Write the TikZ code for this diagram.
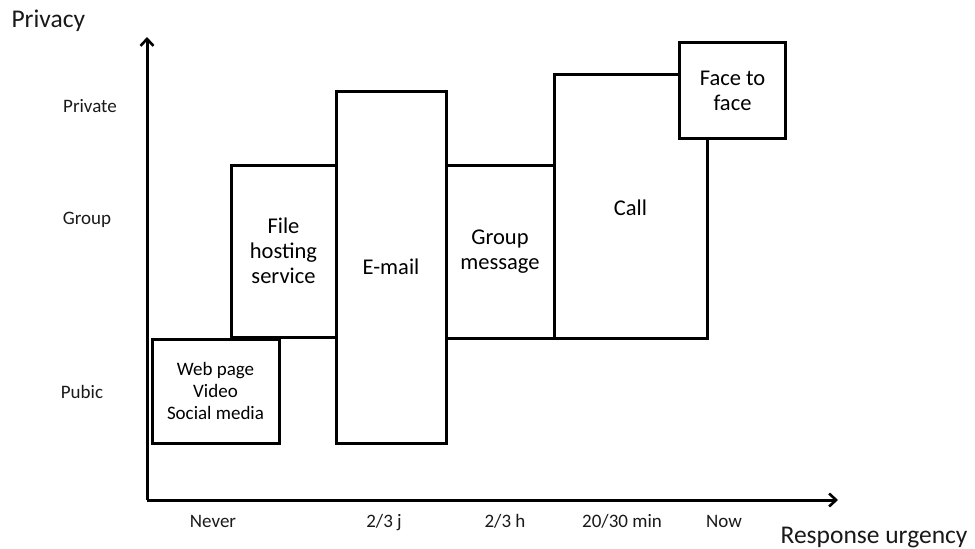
\documentclass[tikz,border=0pt]{standalone}
\usepackage{fontspec}
\setmainfont{Carlito}
\usetikzlibrary{arrows.meta}
\begin{document}
\begin{tikzpicture}[x=1pt,y=-1pt,
  boxfont/.style={font=\fontsize{22.5}{25}\selectfont},
  box/.style={boxfont, draw=black, line width=3pt, inner sep=0pt, align=center},
  smallbox/.style={box, font=\fontsize{19}{22}\selectfont},
  lab/.style={font=\fontsize{19}{20}\selectfont, text=black!90},
  xlab/.style={lab, anchor=base},
  axtitle/.style={font=\fontsize{25.5}{28}\selectfont, text=black!90},
  axis/.style={line width=3pt, -{Straight Barb[length=7pt,width=13pt,line width=2.6pt]}}
]
\useasboundingbox (0,0) rectangle (975,549);
% axes
\coordinate (O) at (147,500);
\coordinate (Ytop) at (147,37);
\coordinate (Xend) at (838,500);
\draw[axis] (O) -- (Ytop);
\draw[axis] (O) -- (Xend);
% boxes
\node[box, minimum width=105pt, minimum height=172pt] (file) at (283.5,251) {File\\hosting\\service};
\node[box, minimum width=108pt, minimum height=173pt] (group) at (500,251.5) {Group\\message};
\node[box, minimum width=153pt, minimum height=264pt] (call) at (630.5,206) {};
\node[boxfont, anchor=base, inner sep=0pt] (calltext) at (630.5,215) {Call};
\node[box, fill=white, minimum width=106pt, minimum height=96pt] (face) at (732.5,90.5) {Face to\\face};
\node[box, minimum width=110pt, minimum height=352pt] (email) at (391,267) {E-mail};
\node[smallbox, minimum width=127pt, minimum height=104pt] (web) at (215.5,391) {Web page\\Video\\Social media};
% axis titles
\node[axtitle, anchor=west] (privacy) at (8,21) {Privacy};
\node[axtitle, anchor=east] (urgency) at (971,538) {Response urgency};
% y labels
\node[lab] (private) at (90,106) {Private};
\node[lab] (grp) at (87,220) {Group};
\node[lab] (pubic) at (82,392) {Pubic};
% x labels
\node[xlab] (never) at (213,527) {Never};
\node[xlab] (j) at (384,527) {2/3 j};
\node[xlab] (h) at (505,527) {2/3 h};
\node[xlab] (min) at (622,527) {20/30 min};
\node[xlab] (now) at (724,527) {Now};
\end{tikzpicture}
\end{document}
